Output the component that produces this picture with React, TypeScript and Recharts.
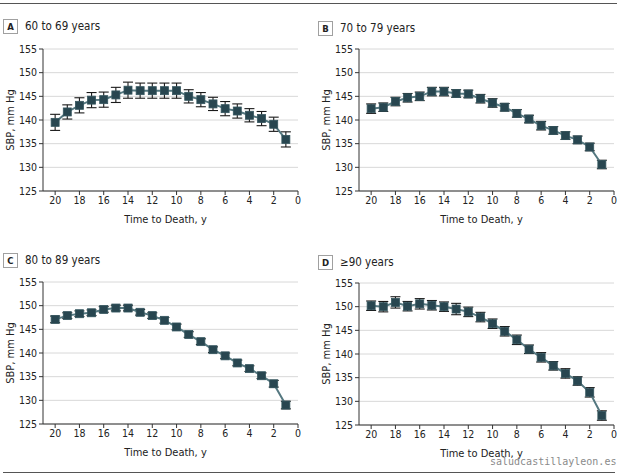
import React from "react";
import {
  LineChart,
  Line,
  XAxis,
  YAxis,
  CartesianGrid,
  ErrorBar,
} from "recharts";

const years = [20, 19, 18, 17, 16, 15, 14, 13, 12, 11, 10, 9, 8, 7, 6, 5, 4, 3, 2, 1];
const xTicks = [20, 18, 16, 14, 12, 10, 8, 6, 4, 2, 0];
const yTicks = [125, 130, 135, 140, 145, 150, 155];

const sbp60 = [139.5, 141.7, 143.1, 144.2, 144.3, 145.3, 146.3, 146.2, 146.2, 146.2, 146.2, 145.0, 144.3, 143.4, 142.4, 141.9, 141.0, 140.3, 139.1, 135.9];
const ci60 = [1.7, 1.5, 1.6, 1.6, 1.6, 1.6, 1.7, 1.6, 1.6, 1.6, 1.6, 1.4, 1.5, 1.4, 1.5, 1.5, 1.4, 1.5, 1.5, 1.6];

const sbp70 = [142.4, 142.7, 143.9, 144.7, 145.0, 146.0, 146.0, 145.6, 145.5, 144.5, 143.6, 142.7, 141.4, 140.2, 138.8, 137.8, 136.7, 135.8, 134.3, 130.6];
const ci70 = [1.0, 0.9, 0.9, 0.9, 0.9, 0.9, 0.9, 0.8, 0.8, 0.9, 0.9, 0.8, 0.8, 0.8, 0.9, 0.8, 0.8, 0.8, 0.8, 0.9];

const sbp80 = [147.1, 147.9, 148.3, 148.5, 149.2, 149.5, 149.5, 148.6, 147.9, 146.9, 145.5, 143.9, 142.4, 140.7, 139.4, 137.9, 136.7, 135.2, 133.5, 129.0];
const ci80 = [0.7, 0.6, 0.6, 0.6, 0.6, 0.6, 0.6, 0.6, 0.6, 0.6, 0.6, 0.6, 0.6, 0.6, 0.6, 0.6, 0.6, 0.6, 0.7, 0.8];

const sbp90 = [150.2, 150.0, 150.9, 150.1, 150.6, 150.3, 150.0, 149.5, 148.9, 147.8, 146.4, 144.8, 143.0, 141.0, 139.3, 137.5, 135.9, 134.3, 131.9, 127.0];
const ci90 = [1.0, 1.1, 1.2, 1.0, 1.1, 1.0, 1.0, 1.2, 1.0, 1.0, 1.0, 1.0, 1.0, 0.9, 1.0, 0.9, 1.0, 0.9, 1.0, 1.0];

const panelLetters = ["A", "B", "C", "D"];
const panelTitles = ["60 to 69 years", "70 to 79 years", "80 to 89 years", "\u226590 years"];
const panelValues = [sbp60, sbp70, sbp80, sbp90];
const panelErrors = [ci60, ci70, ci80, ci90];

const FONT = "'DejaVu Sans Condensed', 'Liberation Sans', sans-serif";

// where each panel sits on the page
const layout = [
  { left: 0, top: 0, boxLeft: 3, boxTop: 19 },
  { left: 316, top: 0, boxLeft: 318, boxTop: 21 },
  { left: 0, top: 233, boxLeft: 3, boxTop: 253 },
  { left: 316, top: 234, boxLeft: 318, boxTop: 255 },
];

const SquareDot = (props: any) => {
  const { cx, cy, index } = props;
  if (cx == null || cy == null) return null;
  return (
    <rect
      key={`dot-${index}`}
      x={cx - 4}
      y={cy - 4}
      width={8}
      height={8}
      fill="#284650"
      stroke="#35565f"
      strokeWidth={0.8}
    />
  );
};

const tickStyle = { fill: "#222", fontSize: 10.5, fontFamily: FONT };

function Panel({ idx }: { idx: number }) {
  const pos = layout[idx];
  const data = years.map((t, i) => ({
    t,
    v: panelValues[idx][i],
    e: panelErrors[idx][i],
  }));

  return (
    <>
      <div
        style={{
          position: "absolute",
          left: pos.boxLeft,
          top: pos.boxTop,
          width: 13,
          height: 13,
          border: "1px solid #a0a0a0",
          fontFamily: FONT,
          fontSize: 9.5,
          fontWeight: 600,
          lineHeight: "13px",
          textAlign: "center",
          color: "#222",
        }}
      >
        {panelLetters[idx]}
      </div>
      <div
        style={{
          position: "absolute",
          left: pos.boxLeft + 22,
          top: pos.boxTop - 1,
          fontFamily: FONT,
          fontSize: 11.5,
          lineHeight: "16px",
          color: "#222",
          whiteSpace: "nowrap",
        }}
      >
        {panelTitles[idx]}
      </div>
      <div style={{ position: "absolute", left: pos.left, top: pos.top }}>
        <LineChart
          width={310}
          height={240}
          data={data}
          margin={{ top: 49, right: 12, bottom: 15, left: 13 }}
        >
          <CartesianGrid horizontal vertical={false} stroke="#d8d8d8" strokeWidth={1} />
          <XAxis
            type="number"
            dataKey="t"
            domain={[0, 21]}
            reversed
            ticks={xTicks}
            interval={0}
            height={34}
            tickSize={4}
            tickMargin={2}
            tick={tickStyle}
            axisLine={{ stroke: "#333" }}
            tickLine={{ stroke: "#333" }}
            label={{
              content: ({ viewBox }: any) => (
                <text
                  x={viewBox.x + viewBox.width / 2 - 5}
                  y={viewBox.y + 32}
                  textAnchor="middle"
                  fontSize={11}
                  fontFamily={FONT}
                  fill="#222"
                >
                  Time to Death, y
                </text>
              ),
            }}
          />
          <YAxis
            type="number"
            domain={[125, 155]}
            ticks={yTicks}
            interval={0}
            width={30}
            tickSize={4}
            tickMargin={2}
            tick={tickStyle}
            axisLine={{ stroke: "#333" }}
            tickLine={{ stroke: "#333" }}
            label={{
              content: ({ viewBox }: any) => (
                <text
                  x={viewBox.x - 3}
                  y={viewBox.y + viewBox.height / 2}
                  transform={`rotate(-90, ${viewBox.x - 3}, ${viewBox.y + viewBox.height / 2})`}
                  textAnchor="middle"
                  dominantBaseline="central"
                  fontSize={11}
                  fontFamily={FONT}
                  fill="#222"
                >
                  SBP, mm Hg
                </text>
              ),
            }}
          />
          <Line
            type="linear"
            dataKey="v"
            stroke="#557880"
            strokeWidth={2}
            dot={SquareDot}
            activeDot={false}
            isAnimationActive={false}
          >
            <ErrorBar dataKey="e" width={5} stroke="#1a1a1a" strokeWidth={1.1} direction="y" />
          </Line>
        </LineChart>
      </div>
    </>
  );
}

export default function App() {
  return (
    <div
      style={{
        position: "absolute",
        left: 0,
        top: 0,
        width: 625,
        height: 476,
        background: "#fff",
        overflow: "hidden",
      }}
    >
      <div style={{ position: "absolute", left: 0, top: 3, width: 617, height: 1, background: "#555" }} />
      {panelLetters.map((_, i) => (
        <Panel key={i} idx={i} />
      ))}
      <div
        style={{
          position: "absolute",
          left: 490,
          top: 455,
          fontFamily: "'DejaVu Sans Mono', monospace",
          fontSize: 10,
          lineHeight: "14px",
          color: "#8a8a8a",
          whiteSpace: "nowrap",
        }}
      >
        saludcastillayleon.es
      </div>
      <div style={{ position: "absolute", left: 3, top: 472, width: 612, height: 1, background: "#555" }} />
    </div>
  );
}
